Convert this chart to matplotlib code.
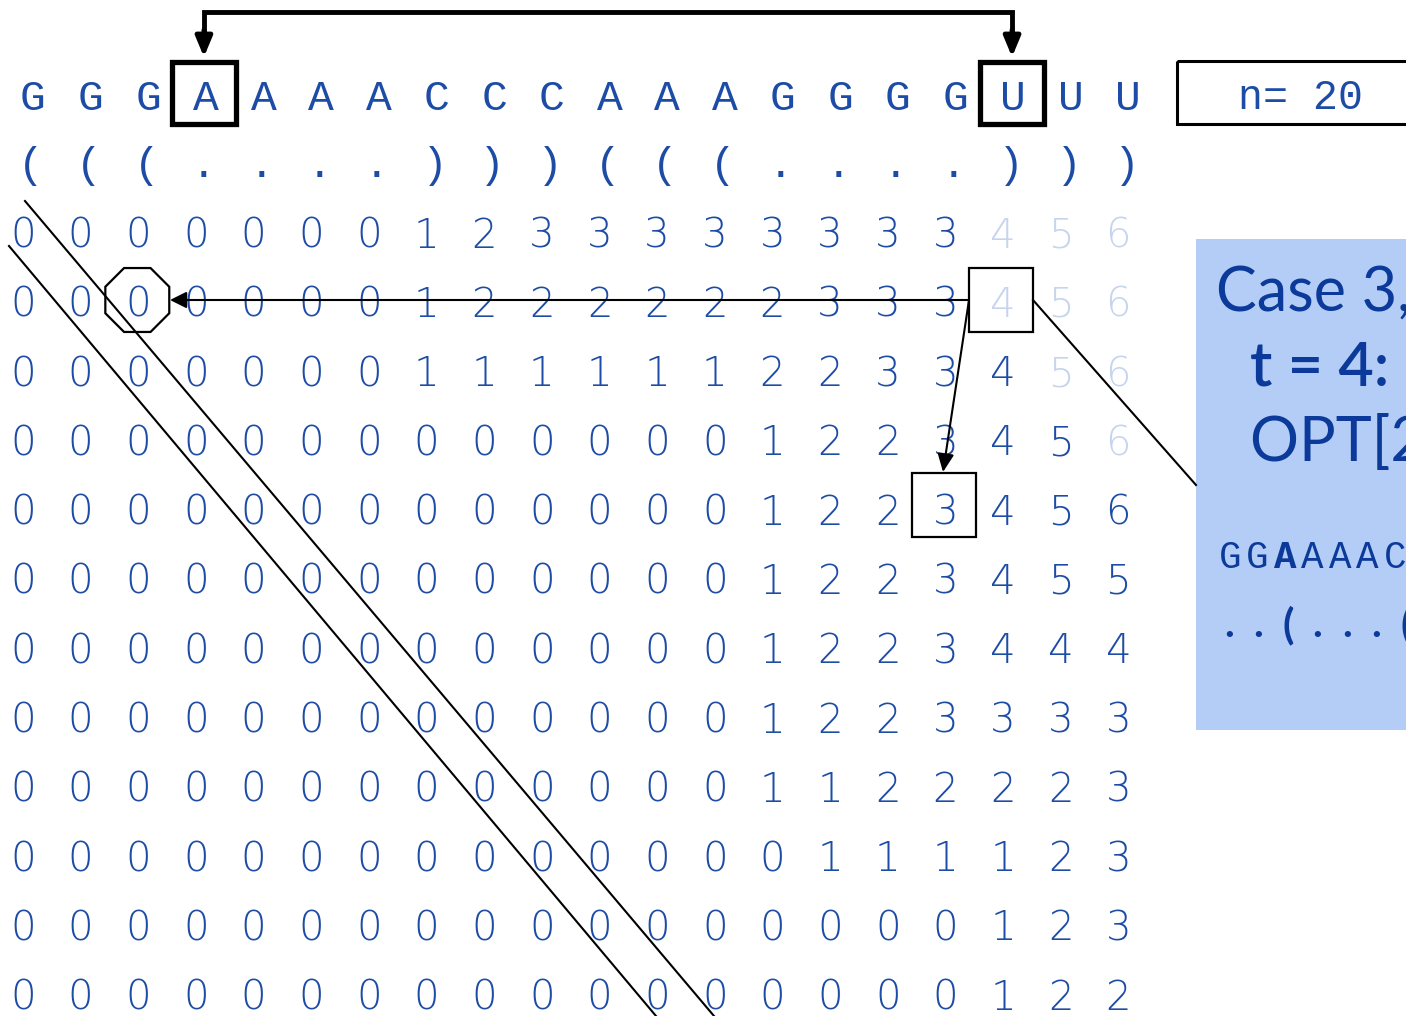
import matplotlib.pyplot as plt
from matplotlib.patches import Rectangle, RegularPolygon

# secuencia, estructura y tabla OPT (filas visibles)
secuencia = "GGGAAAACCCAAAGGGGUUU"
estructura = "(((....)))(((....)))"
tabla = [
    "00000001233333333456",
    "00000001222222333456",
    "00000001111112233456",
    "00000000000001223456",
    "00000000000001223456",
    "00000000000001223455",
    "00000000000001223444",
    "00000000000001223333",
    "00000000000001122223",
    "00000000000000111123",
    "00000000000000000123",
    "00000000000000000122",
]
# celdas en gris claro (fila, columna)
celdas_claras = [(0, 17), (0, 18), (0, 19), (1, 17), (1, 18), (1, 19),
                 (2, 18), (2, 19), (3, 19)]
sub_secuencia = "GGAAAACCCAAAGGGGU"
sub_estructura = "..(...(((....))))"
negrita = 2

azul = '#1d4ca6'
azul_osc = '#0b3a9a'
claro = '#c6d4ee'
mono = 'Liberation Mono'

fig = plt.figure(figsize=(14.06, 10.16), dpi=100)
ax = fig.add_axes([0, 0, 1, 1])
ax.set_xlim(0, 1406)
ax.set_ylim(1016, 0)
ax.axis('off')

x0, dx = 23, 57.65      # columnas de la tabla
xs0 = 33                # columnas de la secuencia
y_seq, y_est = 99, 166
y0, dy = 236, 69.3

def cx(j):
    return x0 + j * dx

def sx(j):
    return xs0 + j * dx

def cy(i):
    return y0 + i * dy

for j, c in enumerate(secuencia):
    ax.text(sx(j), y_seq, c, family=mono, fontsize=31, color=azul, ha='center', va='center')
for j, c in enumerate(estructura):
    ax.text(sx(j) - 2, y_est, c, family=mono, fontsize=31, color=azul, ha='center', va='center')
for i, fila in enumerate(tabla):
    for j, v in enumerate(fila):
        col = claro if (i, j) in celdas_claras else azul
        ax.text(cx(j), cy(i), v, family='DejaVu Sans', fontweight='light', fontsize=29,
                color=col, ha='center', va='center')

# corchete superior con flechas
xa, xu = sx(3) - 2, sx(17) - 1
ax.plot([xa, xa, xu, xu], [40, 12, 12, 40], color='k', lw=3.5, solid_joinstyle='miter')
for xx in (xa, xu):
    ax.annotate('', xy=(xx, 57), xytext=(xx, 30),
                arrowprops=dict(arrowstyle='-|>,head_length=0.6,head_width=0.25', mutation_scale=20,
                                lw=3.5, color='k', shrinkA=0, shrinkB=0))
    ax.add_patch(Rectangle((xx - 32, 62), 64, 62, fill=False, lw=3.8, ec='k'))

# caja n = 20
ax.add_patch(Rectangle((1177, 61), 260, 63, fill=False, lw=2.2, ec='k', clip_on=False))
ax.text(1300, 98, "n= 20", family=mono, fontsize=30, color=azul, ha='center', va='center')

# diagonales
ax.plot([25, 714], [201, 1016], color='k', lw=1.5)
ax.plot([9, 656], [246, 1016], color='k', lw=1.5)

# octágono y flecha horizontal
ax.add_patch(RegularPolygon((cx(2) - 1, 300), numVertices=8, radius=34.6,
                            orientation=3.14159 / 8, fill=False, ec='k', lw=1.6))
ax.annotate('', xy=(170, 300), xytext=(969, 300),
            arrowprops=dict(arrowstyle='-|>,head_length=0.5,head_width=0.25', mutation_scale=20,
                            lw=1.5, color='k', shrinkA=0, shrinkB=0))

# cajas finas y flecha al 3
ax.add_patch(Rectangle((969, 268), 64, 64, fill=False, lw=1.6, ec='k'))
ax.add_patch(Rectangle((912, 473), 64, 64, fill=False, lw=1.6, ec='k'))
ax.annotate('', xy=(943, 472), xytext=(969, 300),
            arrowprops=dict(arrowstyle='-|>,head_length=0.55,head_width=0.25', mutation_scale=20,
                            lw=1.5, color='k', shrinkA=0, shrinkB=0))
ax.plot([1033, 1196], [300, 485], color='k', lw=1.5)

# panel explicativo
ax.add_patch(Rectangle((1196, 239), 260, 491, fc='#b4cdf6', ec='none', clip_on=False))
ax.text(1216, 293, "Case 3, k = 17", family='Lato', fontsize=44, color=azul_osc, ha='left', va='center')
ax.text(1250, 368, "t = 4:", family='Lato', fontsize=44, fontweight=600, color=azul_osc, ha='left', va='center')
ax.text(1250, 443, "OPT[2, 3]", family='Lato', fontsize=44, color=azul_osc, ha='left', va='center')
for k, c in enumerate(sub_secuencia):
    ax.text(1230 + k * 27.5, 558, c, family=mono, fontsize=27, color=azul_osc,
            fontweight='bold' if k == negrita else 'normal', ha='center', va='center')
for k, c in enumerate(sub_estructura):
    ax.text(1229 + k * 29.5, 625, c, family='Lato', fontsize=30, fontweight='bold', color=azul_osc,
            ha='center', va='center')

fig.savefig('out.png', dpi=100)
